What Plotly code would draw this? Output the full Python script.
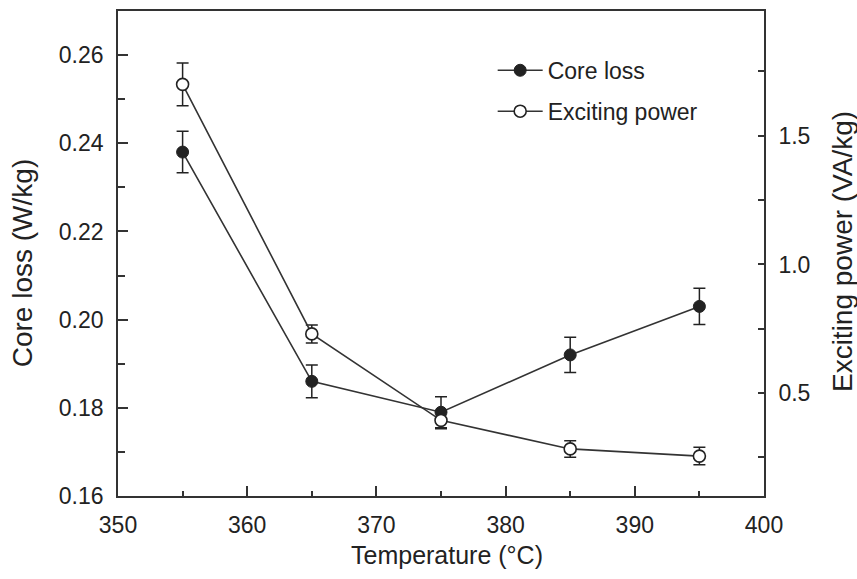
import plotly.graph_objects as go

# Annealing temperature (°C)
temperature = [355, 365, 375, 385, 395]

# Core loss (W/kg), left axis
core_loss = [0.238, 0.186, 0.179, 0.192, 0.203]
core_loss_err = [0.0047, 0.0037, 0.0035, 0.0040, 0.0041]

# Exciting power (VA/kg), right axis
exciting_power = [1.70, 0.73, 0.394, 0.283, 0.255]
exciting_power_err = [0.083, 0.035, 0.033, 0.032, 0.034]

FONT = "Liberation Sans, Arial, Helvetica, sans-serif"
INK = "#222222"
LINE = "#333333"

fig = go.Figure()

fig.add_trace(go.Scatter(
    x=temperature, y=core_loss, name="Core loss",
    mode="lines+markers", legendgroup="a",
    line=dict(color=LINE, width=1.6),
    marker=dict(symbol="circle", size=12, color=INK,
                line=dict(color=INK, width=1)),
    error_y=dict(type="data", array=core_loss_err, visible=True,
                 color=INK, thickness=1.5, width=6),
    yaxis="y",
))

fig.add_trace(go.Scatter(
    x=temperature, y=exciting_power, name="Exciting power",
    mode="lines+markers", legendgroup="b",
    line=dict(color=LINE, width=1.6),
    marker=dict(symbol="circle", size=12, color="white",
                line=dict(color=INK, width=1.6)),
    error_y=dict(type="data", array=exciting_power_err, visible=True,
                 color=INK, thickness=1.5, width=6),
    yaxis="y2",
))

axis_common = dict(
    showgrid=False, zeroline=False, showline=True,
    linecolor=LINE, linewidth=1.6,
    ticks="inside", tickcolor=LINE, tickwidth=1.5,
    tickfont=dict(family=FONT, size=23, color=INK),
)

fig.update_layout(
    width=857, height=579, autosize=False,
    margin=dict(l=118, r=93, t=9, b=83),
    paper_bgcolor="white", plot_bgcolor="white",
    font=dict(family=FONT, color=INK),
    showlegend=True,
    legend=dict(
        x=0.58, y=0.922, xanchor="left", yanchor="top",
        bgcolor="rgba(0,0,0,0)", borderwidth=0,
        font=dict(family=FONT, size=23, color=INK),
        traceorder="grouped", tracegroupgap=8,
        itemwidth=45,
    ),
    xaxis=dict(
        **axis_common,
        range=[350, 400], dtick=10, tick0=350, ticklen=10,
        mirror=True, ticklabelstandoff=8,
        minor=dict(dtick=5, ticks="inside", ticklen=5,
                   tickcolor=LINE, tickwidth=1.5),
    ),
    yaxis=dict(
        **axis_common,
        range=[0.16, 0.27], dtick=0.02, tick0=0.16, ticklen=10,
        tickformat=".2f", ticklabelstandoff=8,
        minor=dict(dtick=0.01, ticks="inside", ticklen=7,
                   tickcolor=LINE, tickwidth=1.5),
    ),
    yaxis2=dict(
        **axis_common,
        overlaying="y", side="right",
        range=[0.1, 1.985], dtick=0.5, tick0=0, ticklen=6,
        tickformat=".1f", ticklabelstandoff=8,
        minor=dict(dtick=0.25, ticks="inside", ticklen=6,
                   tickcolor=LINE, tickwidth=1.5),
    ),
    annotations=[
        dict(text="Temperature (°C)", xref="paper", yref="paper",
             x=0.509, y=-0.121, xanchor="center", yanchor="middle",
             showarrow=False, font=dict(family=FONT, size=25, color=INK)),
        dict(text="Core loss (W/kg)", xref="paper", yref="paper",
             x=-0.1485, y=0.48, xanchor="center", yanchor="middle",
             textangle=-90, showarrow=False,
             font=dict(family=FONT, size=28, color=INK)),
        dict(text="Exciting power (VA/kg)", xref="paper", yref="paper",
             x=1.1207, y=0.505, xanchor="center", yanchor="middle",
             textangle=-90, showarrow=False,
             font=dict(family=FONT, size=28, color=INK)),
    ],
)

fig.write_html("out.html")
